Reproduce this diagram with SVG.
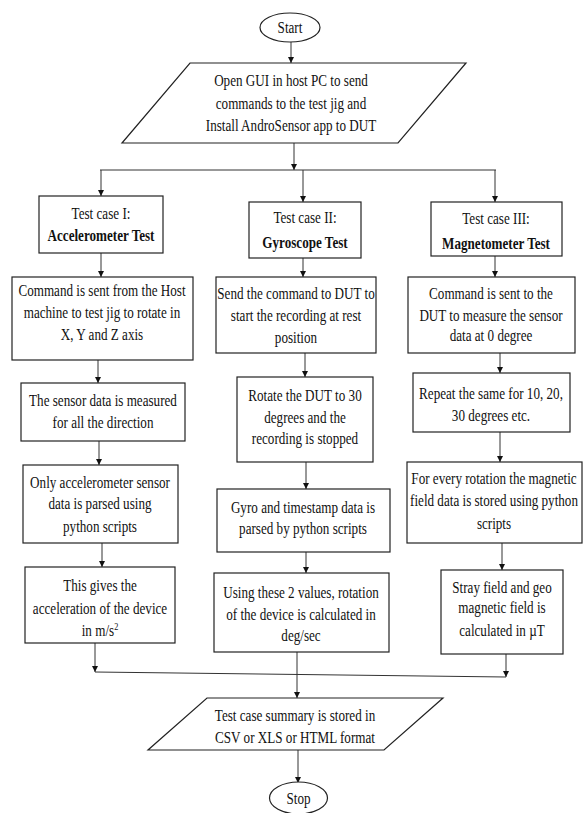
<svg xmlns="http://www.w3.org/2000/svg" width="584" height="813" viewBox="0 0 584 813">
<defs>
<marker id="ah" viewBox="0 0 10 10" refX="10" refY="5" markerWidth="6" markerHeight="8" markerUnits="userSpaceOnUse" orient="auto">
<path d="M0,0 L10,5 L0,10 z" fill="#111"/>
</marker>
</defs>
<style>
.s{fill:#fff;stroke:#222;stroke-width:1.2}
.t{font-family:"Liberation Serif","Times New Roman",serif;font-size:17.5px;fill:#111;text-anchor:middle}
.b{font-weight:bold}
.c{fill:none;stroke:#333;stroke-width:1}
.a{fill:none;stroke:#333;stroke-width:1;marker-end:url(#ah)}
</style>
<rect width="584" height="813" fill="#fff"/>
<g id="connectors">
<line class="a" x1="291" y1="42" x2="291" y2="63"/>
<line class="a" x1="294" y1="143" x2="294" y2="170"/>
<line class="c" x1="100" y1="170" x2="496" y2="170"/>
<line class="a" x1="101" y1="170" x2="101" y2="196"/>
<line class="a" x1="303" y1="170" x2="303" y2="202"/>
<line class="a" x1="495" y1="170" x2="495" y2="202"/>
<line class="a" x1="101" y1="253" x2="101" y2="277"/>
<line class="a" x1="98" y1="360" x2="98" y2="383"/>
<line class="a" x1="99" y1="441" x2="99" y2="465"/>
<line class="a" x1="102" y1="543" x2="102" y2="567"/>
<line class="a" x1="95" y1="643" x2="95" y2="672"/>
<line class="a" x1="303" y1="258" x2="303" y2="277"/>
<line class="a" x1="305" y1="353" x2="305" y2="377"/>
<line class="a" x1="306" y1="462" x2="306" y2="489"/>
<line class="a" x1="306" y1="552" x2="306" y2="573"/>
<line class="a" x1="297" y1="652" x2="297" y2="698"/>
<line class="a" x1="495" y1="256" x2="495" y2="277"/>
<line class="a" x1="500" y1="353" x2="500" y2="373"/>
<line class="a" x1="500" y1="432" x2="500" y2="462"/>
<line class="a" x1="502" y1="543" x2="502" y2="570"/>
<line class="a" x1="506" y1="654" x2="506" y2="677"/>
<line class="c" x1="95" y1="672" x2="506" y2="677"/>
<line class="a" x1="298" y1="750" x2="298" y2="783"/>
</g>
<g id="start">
<ellipse class="s" cx="290" cy="27.5" rx="30" ry="14.5"/>
<text class="t" transform="translate(290,0) scale(0.75,1)" x="0" y="33">Start</text>
</g>
<g id="open-gui">
<polygon class="s" points="190,63 466,63 398,143 122,143"/>
<text class="t" transform="translate(291,0) scale(0.75,1)"><tspan x="0" y="86">Open GUI in host PC to send</tspan><tspan x="0" y="109">commands to the test jig and</tspan><tspan x="0" y="131">Install AndroSensor app to DUT</tspan></text>
</g>
<g id="tc1">
<rect class="s" x="39" y="196" width="124" height="57"/>
<text class="t" transform="translate(101,0) scale(0.75,1)"><tspan x="0" y="219">Test case I:</tspan><tspan x="0" y="241" class="b">Accelerometer Test</tspan></text>
</g>
<g id="acc1">
<rect class="s" x="12" y="277" width="181" height="83"/>
<text class="t" transform="translate(102,0) scale(0.75,1)"><tspan x="0" y="296">Command is sent from the Host</tspan><tspan x="0" y="318">machine to test jig to rotate in</tspan><tspan x="0" y="340">X, Y and Z axis</tspan></text>
</g>
<g id="acc2">
<rect class="s" x="21" y="383" width="164" height="58"/>
<text class="t" transform="translate(103,0) scale(0.75,1)"><tspan x="0" y="406">The sensor data is measured</tspan><tspan x="0" y="428">for all the direction</tspan></text>
</g>
<g id="acc3">
<rect class="s" x="23" y="465" width="155" height="78"/>
<text class="t" transform="translate(100,0) scale(0.75,1)"><tspan x="0" y="488">Only accelerometer sensor</tspan><tspan x="0" y="509">data is parsed using</tspan><tspan x="0" y="532">python scripts</tspan></text>
</g>
<g id="acc4">
<rect class="s" x="25" y="567" width="150" height="76"/>
<text class="t" transform="translate(100,0) scale(0.75,1)"><tspan x="0" y="591">This gives the</tspan><tspan x="0" y="614">acceleration of the device</tspan><tspan x="0" y="636">in m/s<tspan dy="-6" font-size="11">2</tspan></tspan></text>
</g>
<g id="tc2">
<rect class="s" x="249" y="202" width="112" height="56"/>
<text class="t" transform="translate(305,0) scale(0.75,1)"><tspan x="0" y="223">Test case II:</tspan><tspan x="0" y="248" class="b">Gyroscope Test</tspan></text>
</g>
<g id="gyro1">
<rect class="s" x="216" y="277" width="160" height="76"/>
<text class="t" transform="translate(296,0) scale(0.75,1)"><tspan x="0" y="299">Send the command to DUT to</tspan><tspan x="0" y="321">start the recording at rest</tspan><tspan x="0" y="343">position</tspan></text>
</g>
<g id="gyro2">
<rect class="s" x="237" y="377" width="136" height="85"/>
<text class="t" transform="translate(305,0) scale(0.75,1)"><tspan x="0" y="401">Rotate the DUT to 30</tspan><tspan x="0" y="423">degrees and the</tspan><tspan x="0" y="444">recording is stopped</tspan></text>
</g>
<g id="gyro3">
<rect class="s" x="217" y="489" width="173" height="63"/>
<text class="t" transform="translate(303,0) scale(0.75,1)"><tspan x="0" y="513">Gyro and timestamp data is</tspan><tspan x="0" y="534">parsed by python scripts</tspan></text>
</g>
<g id="gyro4">
<rect class="s" x="214" y="573" width="175" height="79"/>
<text class="t" transform="translate(301,0) scale(0.75,1)"><tspan x="0" y="598">Using these 2 values, rotation</tspan><tspan x="0" y="620">of the device is calculated in</tspan><tspan x="0" y="641">deg/sec</tspan></text>
</g>
<g id="tc3">
<rect class="s" x="431" y="202" width="131" height="54"/>
<text class="t" transform="translate(496,0) scale(0.75,1)"><tspan x="0" y="224">Test case III:</tspan><tspan x="0" y="249" class="b">Magnetometer Test</tspan></text>
</g>
<g id="mag1">
<rect class="s" x="408" y="277" width="167" height="76"/>
<text class="t" transform="translate(491,0) scale(0.75,1)"><tspan x="0" y="299">Command is sent to the</tspan><tspan x="0" y="321">DUT to measure the sensor</tspan><tspan x="0" y="341">data at 0 degree</tspan></text>
</g>
<g id="mag2">
<rect class="s" x="413" y="373" width="157" height="59"/>
<text class="t" transform="translate(491,0) scale(0.75,1)"><tspan x="0" y="399">Repeat the same for 10, 20,</tspan><tspan x="0" y="421">30 degrees etc.</tspan></text>
</g>
<g id="mag3">
<rect class="s" x="407" y="462" width="175" height="81"/>
<text class="t" transform="translate(494,0) scale(0.75,1)"><tspan x="0" y="484">For every rotation the magnetic</tspan><tspan x="0" y="506">field data is stored using python</tspan><tspan x="0" y="529">scripts</tspan></text>
</g>
<g id="mag4">
<rect class="s" x="441" y="570" width="122" height="84"/>
<text class="t" transform="translate(502,0) scale(0.75,1)"><tspan x="0" y="593">Stray field and geo</tspan><tspan x="0" y="613">magnetic field is</tspan><tspan x="0" y="636">calculated in µT</tspan></text>
</g>
<g id="summary">
<polygon class="s" points="207,698 443,698 384,750 148,750"/>
<text class="t" transform="translate(295,0) scale(0.75,1)"><tspan x="0" y="721">Test case summary is stored in</tspan><tspan x="0" y="743">CSV or XLS or HTML format</tspan></text>
</g>
<g id="stop">
<ellipse class="s" cx="298.5" cy="798" rx="29" ry="16"/>
<text class="t" transform="translate(298.5,0) scale(0.75,1)" x="0" y="804">Stop</text>
</g>
</svg>
